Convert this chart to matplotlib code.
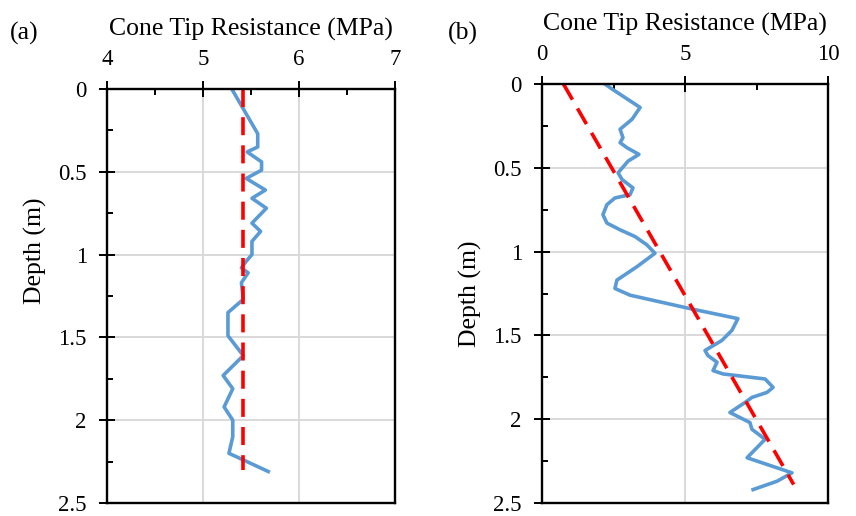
import matplotlib
matplotlib.use("Agg")
import matplotlib.pyplot as plt
from matplotlib.ticker import MultipleLocator

plt.rcParams['font.family'] = ['Liberation Serif', 'DejaVu Serif']

# Panel (a) data
a_qc = [5.30, 5.57, 5.57, 5.46, 5.61, 5.61, 5.45, 5.65, 5.51, 5.66, 5.51, 5.60, 5.51,
        5.51, 5.45, 5.40, 5.47, 5.40, 5.42, 5.26, 5.26, 5.42, 5.21, 5.31, 5.22, 5.31,
        5.31, 5.27, 5.42, 5.68]
a_depth = [0.00, 0.27, 0.35, 0.38, 0.44, 0.49, 0.54, 0.61, 0.66, 0.72, 0.81, 0.86, 0.92,
           1.00, 1.04, 1.08, 1.11, 1.17, 1.27, 1.35, 1.49, 1.61, 1.73, 1.81, 1.92, 2.00,
           2.10, 2.20, 2.24, 2.31]
a_fit_qc = [5.42, 5.42]
a_fit_depth = [0.0, 2.30]

# Panel (b) data
b_qc = [2.20, 2.45, 3.43, 3.15, 2.73, 2.83, 2.73, 2.97, 3.39, 3.01, 2.66, 2.80, 3.18,
        3.08, 2.55, 2.27, 2.13, 2.27, 2.73, 3.25, 3.67, 3.95, 3.32, 2.62, 2.55, 3.08,
        5.17, 6.85, 6.64, 6.29, 5.70, 5.80, 6.12, 5.98, 6.33, 7.80, 8.08, 7.87, 7.34,
        7.10, 6.57, 7.27, 7.34, 7.80, 7.17, 8.74, 8.22, 7.38]
b_depth = [0.00, 0.03, 0.14, 0.21, 0.27, 0.32, 0.35, 0.38, 0.42, 0.46, 0.53, 0.57, 0.62,
           0.66, 0.68, 0.72, 0.78, 0.83, 0.87, 0.91, 0.96, 1.01, 1.09, 1.17, 1.22, 1.26,
           1.34, 1.40, 1.47, 1.53, 1.59, 1.62, 1.66, 1.71, 1.73, 1.76, 1.81, 1.84, 1.87,
           1.90, 1.96, 2.02, 2.06, 2.12, 2.23, 2.32, 2.37, 2.42]
b_fit_qc = [0.75, 8.80]
b_fit_depth = [0.0, 2.39]

xlabel = "Cone Tip Resistance (MPa)"
ylabel = "Depth (m)"

BLUE = "#5B9BD5"
RED = "#FF0000"
GRID = "#D9D9D9"
FS_TICK = 16.5
FS_LAB = 18.5

fig = plt.figure(figsize=(8.56, 5.16), dpi=100)
ax_a = fig.add_axes([107/856, 13/516, 288/856, 414/516])
ax_b = fig.add_axes([542/856, 13/516, 286/856, 419/516])


def style(ax, xlim, xmajor, xminor, ylab_y, ylim=(2.5, 0)):
    ax.set_xlim(*xlim)
    ax.set_ylim(*ylim)
    ax.xaxis.set_major_locator(MultipleLocator(xmajor))
    ax.xaxis.set_minor_locator(MultipleLocator(xminor))
    ax.yaxis.set_major_locator(MultipleLocator(0.5))
    ax.yaxis.set_minor_locator(MultipleLocator(0.25))
    ax.xaxis.set_ticks_position('top')
    ax.xaxis.set_label_position('top')
    ax.tick_params(which='major', direction='inout', length=11, width=1.4,
                   labelsize=FS_TICK)
    ax.tick_params(axis='y', which='major', pad=9)
    ax.tick_params(axis='x', which='major', pad=8)
    ax.tick_params(which='minor', direction='in', length=4, width=1.4)
    ax.tick_params(axis='x', which='both', bottom=False, top=True)
    ax.tick_params(axis='y', which='both', left=True, right=False)
    for s in ax.spines.values():
        s.set_linewidth(1.7)
        s.set_color('black')
    ax.grid(True, which='major', color=GRID, linewidth=1.4)
    ax.set_axisbelow(True)
    ax.set_xlabel(xlabel, fontsize=FS_LAB, labelpad=10)
    ax.set_ylabel(ylabel, fontsize=FS_LAB, labelpad=8, y=ylab_y)
    ax.yaxis.set_major_formatter(matplotlib.ticker.FuncFormatter(
        lambda v, p: ('%g' % v)))


style(ax_a, (4, 7), 1, 0.5, 0.61)
style(ax_b, (0, 10), 5, 2.5, 0.5)

ax_a.plot(a_qc, a_depth, color=BLUE, linewidth=2.6, solid_joinstyle='round')
ax_a.plot(a_fit_qc, a_fit_depth, color=RED, linewidth=2.6, dashes=(5, 2.8))
ax_b.plot(b_qc, b_depth, color=BLUE, linewidth=2.6, solid_joinstyle='round')
ax_b.plot(b_fit_qc, b_fit_depth, color=RED, linewidth=2.6, dashes=(5, 2.8))

fig.text(10/856, 1 - 40/516, "(a)", fontsize=FS_LAB)
fig.text(448/856, 1 - 40/516, "(b)", fontsize=FS_LAB)

fig.savefig("out.png", dpi=100)
